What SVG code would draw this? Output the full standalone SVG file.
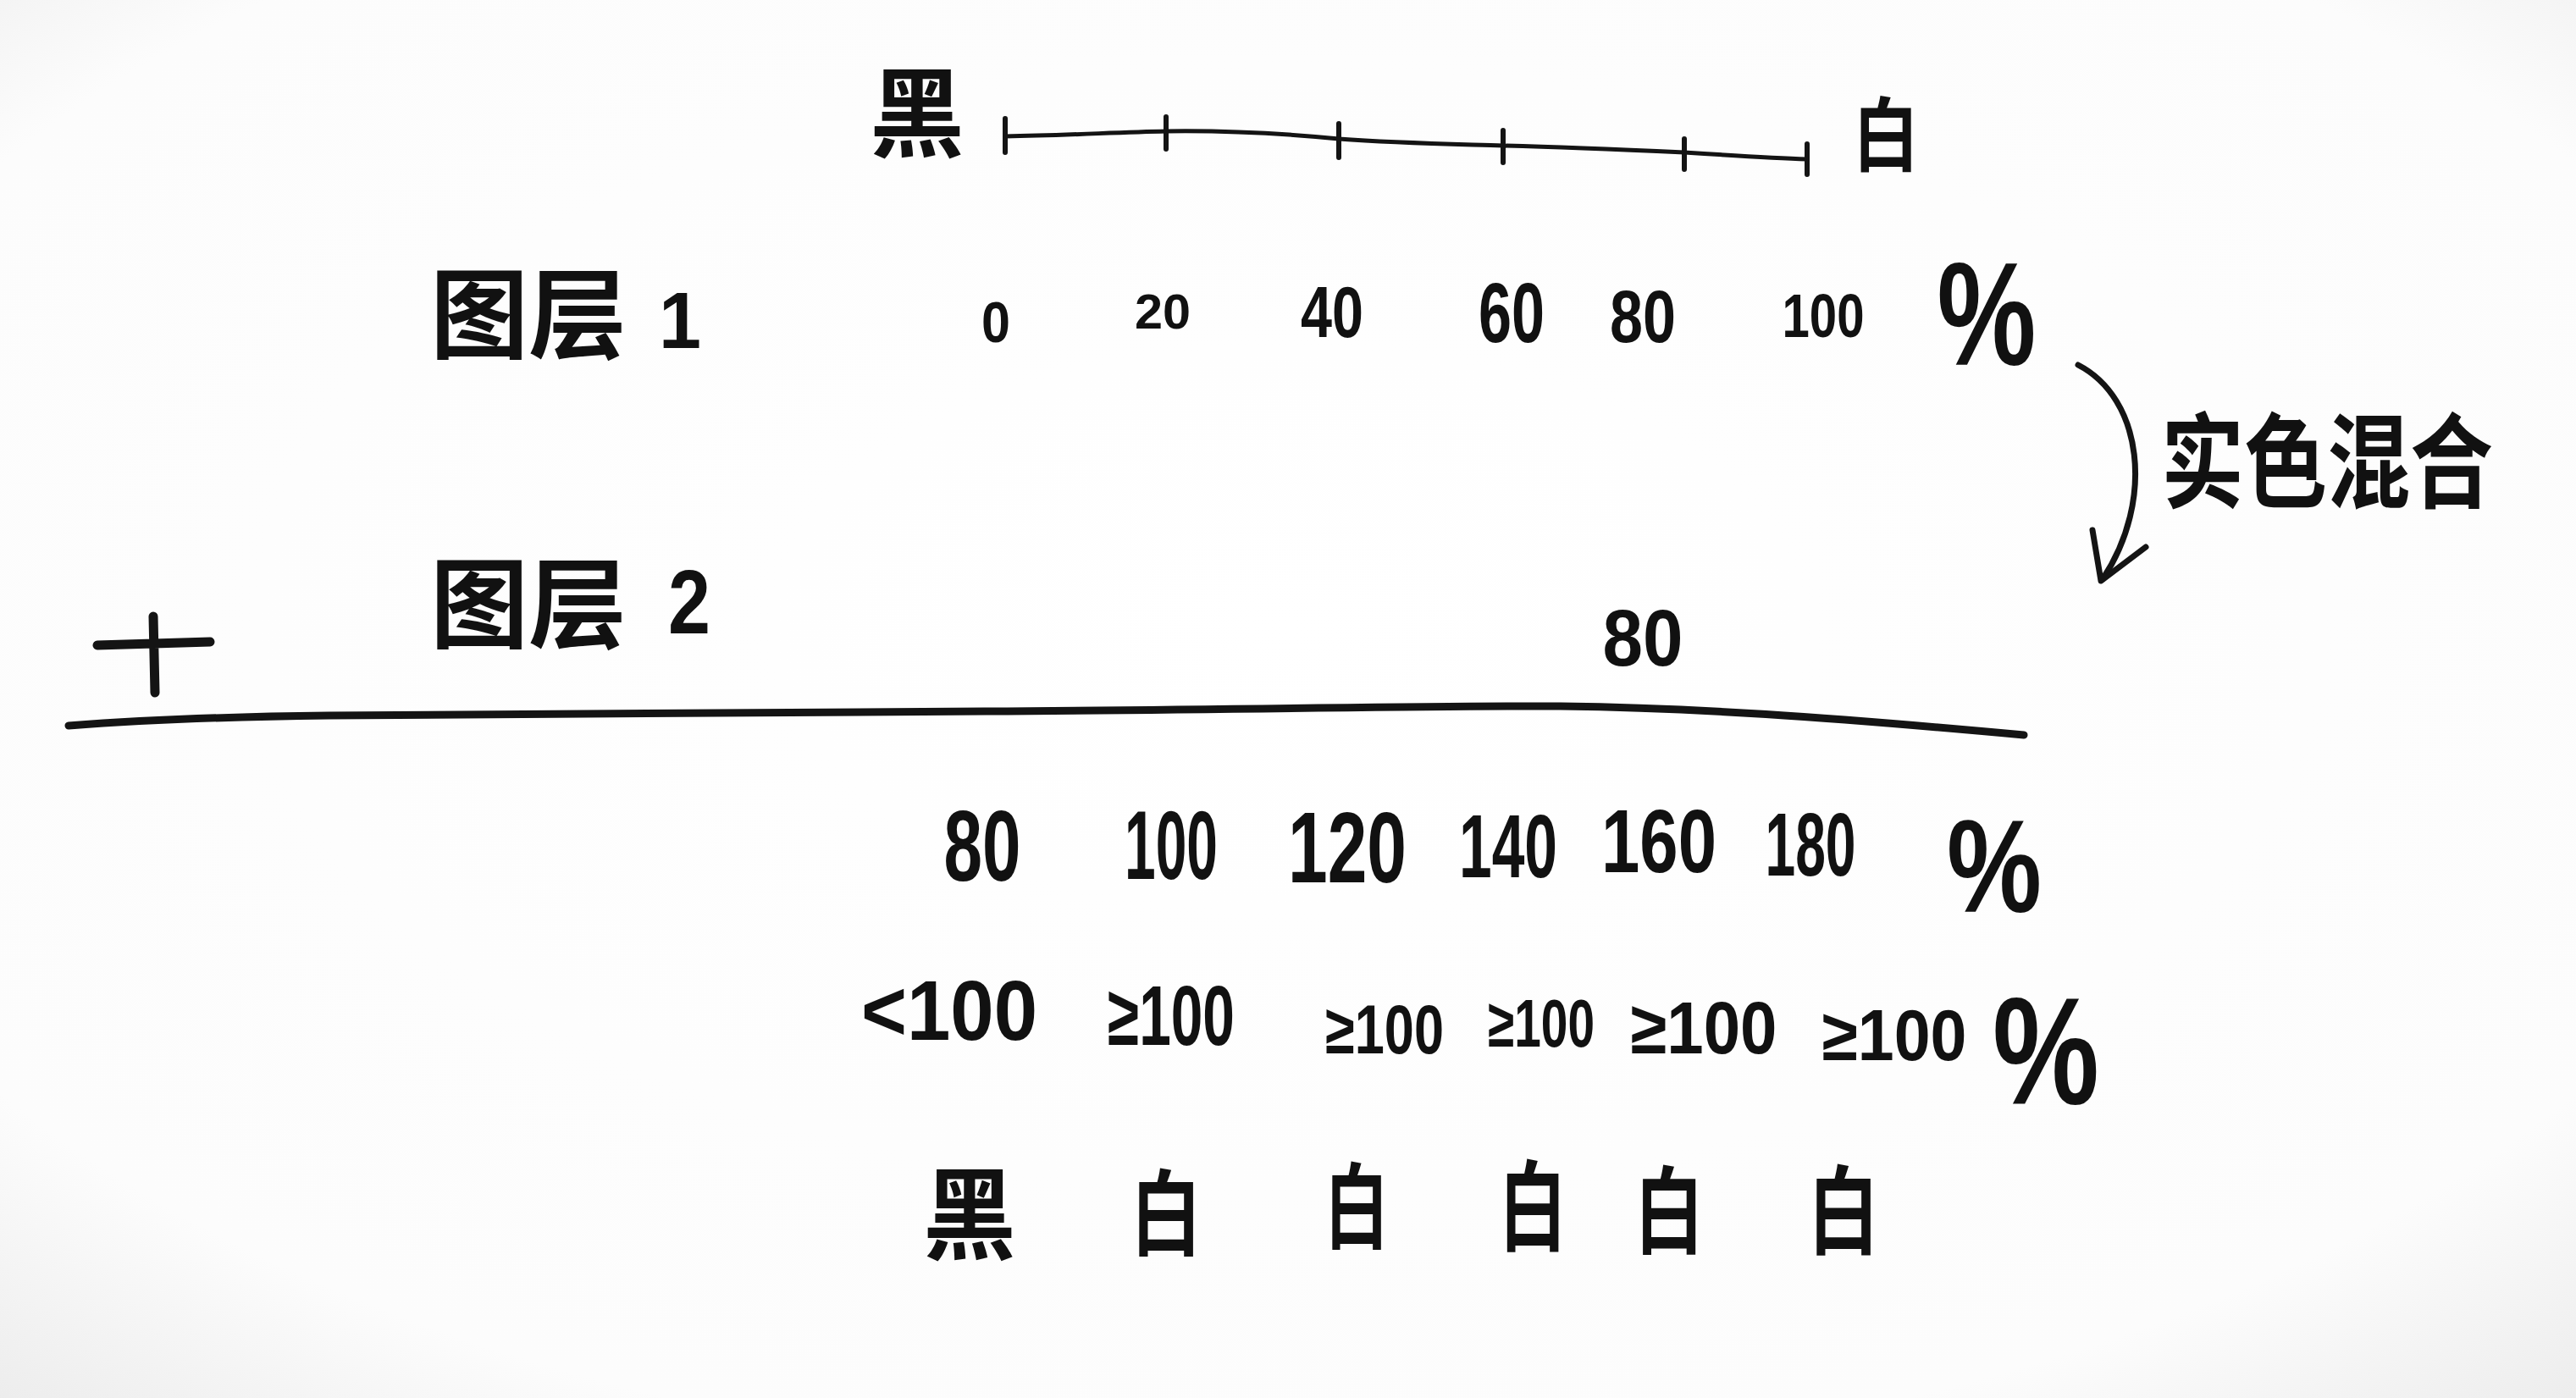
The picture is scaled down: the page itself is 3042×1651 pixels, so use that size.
<svg xmlns="http://www.w3.org/2000/svg" width="3042" height="1651" viewBox="0 0 3042 1651">
<defs>
<radialGradient id="bg" cx="50%" cy="45%" r="75%">
<stop offset="0%" stop-color="#ffffff"/>
<stop offset="80%" stop-color="#fcfcfc"/>
<stop offset="100%" stop-color="#ececec"/>
</radialGradient>
<style>
.cjk{font-family:"Noto Sans CJK SC","Noto Sans",sans-serif;font-weight:700;fill:#111}
.num{font-family:"Liberation Sans","DejaVu Sans",sans-serif;font-weight:700;fill:#111}
.ink{fill:none;stroke:#141414;stroke-linecap:round;stroke-linejoin:round}
</style>
</defs>
<rect x="0" y="0" width="3042" height="1651" fill="url(#bg)"/>

<g id="scale-black"><text class="cjk" x="1083" y="176" font-size="115" text-anchor="middle" textLength="112" lengthAdjust="spacingAndGlyphs">黑</text></g>
<g id="scale-white"><text class="cjk" x="2227" y="195" font-size="95" text-anchor="middle" textLength="78" lengthAdjust="spacingAndGlyphs">白</text></g>

<g id="scale-line">
<path class="ink" stroke-width="5" d="M1187,161 C1260,160 1320,156 1377,155 C1450,154 1520,158 1581,164 C1650,169 1710,170 1775,172 C1850,174 1920,177 1989,180 C2050,184 2100,187 2134,188"/>
<path class="ink" stroke-width="6" d="M1187,140 L1187,180 M1377,138 L1377,176 M1581,146 L1581,186 M1775,154 L1775,192 M1989,164 L1989,200 M2134,170 L2134,206"/>
</g>

<g id="layer1">
<text class="cjk" x="508" y="414" font-size="116">图层</text>
<text class="num" x="803" y="411" font-size="95" text-anchor="middle" textLength="50" lengthAdjust="spacingAndGlyphs">1</text>
</g>
<g id="layer1-values">
<text class="num" x="1176" y="404" font-size="68" text-anchor="middle" textLength="34" lengthAdjust="spacingAndGlyphs">0</text>
<text class="num" x="1373" y="388" font-size="58" text-anchor="middle" textLength="66" lengthAdjust="spacingAndGlyphs">20</text>
<text class="num" x="1573" y="398" font-size="86" text-anchor="middle" textLength="74" lengthAdjust="spacingAndGlyphs">40</text>
<text class="num" x="1785" y="404" font-size="100" text-anchor="middle" textLength="78" lengthAdjust="spacingAndGlyphs">60</text>
<text class="num" x="1940" y="404" font-size="88" text-anchor="middle" textLength="78" lengthAdjust="spacingAndGlyphs">80</text>
<text class="num" x="2153" y="398" font-size="72" text-anchor="middle" textLength="97" lengthAdjust="spacingAndGlyphs">100</text>
<text class="num" x="2346" y="431" font-size="172" text-anchor="middle" textLength="117" lengthAdjust="spacingAndGlyphs">%</text>
</g>

<g id="connectors">
<path class="ink" stroke-width="7" d="M2454,431 C2530,470 2545,590 2483,684"/>
<path class="ink" stroke-width="7" d="M2471,626 L2481,686 L2534,646"/>
</g>
<g id="blend-label"><text class="cjk" x="2552" y="590" font-size="122" textLength="392" lengthAdjust="spacingAndGlyphs">实色混合</text></g>

<g id="plus"><path class="ink" stroke-width="11" d="M115,762 L248,758 M181,728 L183,818"/></g>

<g id="layer2">
<text class="cjk" x="508" y="756" font-size="116">图层</text>
<text class="num" x="814" y="748" font-size="108" text-anchor="middle" textLength="50" lengthAdjust="spacingAndGlyphs">2</text>
<text class="num" x="1940" y="786" font-size="95" text-anchor="middle" textLength="95" lengthAdjust="spacingAndGlyphs">80</text>
</g>

<g id="sum-line"><path class="ink" stroke-width="9" d="M81,857 C200,848 300,846 388,845 C700,842 1000,842 1164,840 C1500,838 1700,833 1843,834 C2000,836 2150,846 2390,868"/></g>

<g id="sum-values">
<text class="num" x="1160" y="1040" font-size="118" text-anchor="middle" textLength="91" lengthAdjust="spacingAndGlyphs">80</text>
<text class="num" x="1383" y="1038" font-size="115" text-anchor="middle" textLength="110" lengthAdjust="spacingAndGlyphs">100</text>
<text class="num" x="1591" y="1042" font-size="118" text-anchor="middle" textLength="140" lengthAdjust="spacingAndGlyphs">120</text>
<text class="num" x="1781" y="1036" font-size="106" text-anchor="middle" textLength="116" lengthAdjust="spacingAndGlyphs">140</text>
<text class="num" x="1959" y="1030" font-size="106" text-anchor="middle" textLength="136" lengthAdjust="spacingAndGlyphs">160</text>
<text class="num" x="2138" y="1034" font-size="106" text-anchor="middle" textLength="107" lengthAdjust="spacingAndGlyphs">180</text>
<text class="num" x="2355" y="1077" font-size="156" text-anchor="middle" textLength="112" lengthAdjust="spacingAndGlyphs">%</text>
</g>

<g id="threshold">
<text class="num" x="1121" y="1228" font-size="100" text-anchor="middle" textLength="208" lengthAdjust="spacingAndGlyphs">&lt;100</text>
<text class="num" x="1383" y="1234" font-size="100" text-anchor="middle" textLength="150" lengthAdjust="spacingAndGlyphs">≥100</text>
<text class="num" x="1635" y="1244" font-size="82" text-anchor="middle" textLength="140" lengthAdjust="spacingAndGlyphs">≥100</text>
<text class="num" x="1820" y="1236" font-size="80" text-anchor="middle" textLength="126" lengthAdjust="spacingAndGlyphs">≥100</text>
<text class="num" x="2012" y="1244" font-size="88" text-anchor="middle" textLength="173" lengthAdjust="spacingAndGlyphs">≥100</text>
<text class="num" x="2237" y="1252" font-size="86" text-anchor="middle" textLength="171" lengthAdjust="spacingAndGlyphs">≥100</text>
<text class="num" x="2416" y="1304" font-size="180" text-anchor="middle" textLength="126" lengthAdjust="spacingAndGlyphs">%</text>
</g>

<g id="result">
<text class="cjk" x="1145" y="1478" font-size="118" text-anchor="middle" textLength="110" lengthAdjust="spacingAndGlyphs">黑</text>
<text class="cjk" x="1377" y="1474" font-size="110" text-anchor="middle" textLength="84" lengthAdjust="spacingAndGlyphs">白</text>
<text class="cjk" x="1602" y="1466" font-size="110" text-anchor="middle" textLength="76" lengthAdjust="spacingAndGlyphs">白</text>
<text class="cjk" x="1810" y="1468" font-size="116" text-anchor="middle" textLength="80" lengthAdjust="spacingAndGlyphs">白</text>
<text class="cjk" x="1971" y="1472" font-size="112" text-anchor="middle" textLength="82" lengthAdjust="spacingAndGlyphs">白</text>
<text class="cjk" x="2177" y="1472" font-size="114" text-anchor="middle" textLength="84" lengthAdjust="spacingAndGlyphs">白</text>
</g>
</svg>
